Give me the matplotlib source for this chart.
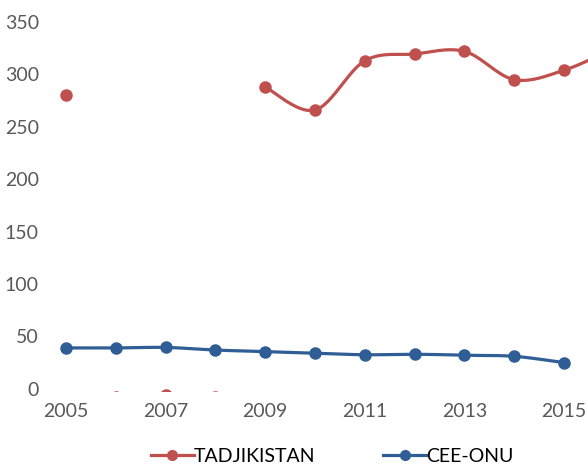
import numpy as np
import matplotlib.pyplot as plt

years = [2005, 2006, 2007, 2008, 2009, 2010, 2011, 2012, 2013, 2014, 2015, 2016]
tadj = [280, np.nan, np.nan, np.nan, 288, 266, 313, 319.5, 322, 295, 304, 325]
tadj_low = [np.nan, -8, -5.5, -8, np.nan, np.nan, np.nan, np.nan, np.nan, np.nan, np.nan, np.nan]
cee = [39, 39, 39.5, 37, 35.5, 34, 32.5, 33, 32, 31, 25]
xticks = [2005, 2007, 2009, 2011, 2013, 2015]
yticks = [0, 50, 100, 150, 200, 250, 300, 350]

RED = '#C0504D'
BLUE = '#2F5E96'


def smooth(x, y, n=20):
    # catmull-rom through each run of valid points, like excel's smoothed line
    x = np.asarray(x, float)
    y = np.asarray(y, float)
    out_x, out_y = [], []
    ok = ~np.isnan(y)
    runs, cur = [], []
    for i in range(len(x)):
        if ok[i]:
            cur.append(i)
        elif cur:
            runs.append(cur)
            cur = []
    if cur:
        runs.append(cur)
    for r in runs:
        px, py = x[r], y[r]
        if len(r) == 1:
            continue
        for k in range(len(r) - 1):
            p0 = (px[max(k - 1, 0)], py[max(k - 1, 0)])
            p1 = (px[k], py[k])
            p2 = (px[k + 1], py[k + 1])
            p3 = (px[min(k + 2, len(r) - 1)], py[min(k + 2, len(r) - 1)])
            t = np.linspace(0, 1, n)
            for a in range(2):
                c1 = p1[a] + (p2[a] - p0[a]) / 6
                c2 = p2[a] - (p3[a] - p1[a]) / 6
                b = ((1 - t) ** 3 * p1[a] + 3 * (1 - t) ** 2 * t * c1
                     + 3 * (1 - t) * t ** 2 * c2 + t ** 3 * p2[a])
                (out_x if a == 0 else out_y).extend(b)
        out_x.append(np.nan)
        out_y.append(np.nan)
    return out_x, out_y


plt.rcParams['font.family'] = ['Lato', 'DejaVu Sans']

fig = plt.figure(figsize=(5.88, 4.66), dpi=100)
ax = fig.add_axes([0.085, 0.16, 0.915, 0.84])

sx, sy = smooth(years, tadj)
ax.plot(sx, sy, color=RED, lw=2.3, solid_capstyle='round')
ax.plot(years, tadj, 'o', color=RED, ms=8)
ax.plot(years, tadj_low, 'o', color=RED, ms=8)

sx, sy = smooth(years[:len(cee)], cee)
ax.plot(sx, sy, color=BLUE, lw=2.3, solid_capstyle='round')
ax.plot(years[:len(cee)], cee, 'o', color=BLUE, ms=8)

ax.set_xlim(2004.68, 2015.48)
ax.set_ylim(-2.5, 371)
ax.set_xticks(xticks)
ax.set_yticks(yticks)
ax.tick_params(length=0, labelsize=14, colors='#595959', pad=8)
for s in ax.spines.values():
    s.set_visible(False)

h1, = ax.plot([], [], '-o', color=RED, lw=2.3, ms=7)
h2, = ax.plot([], [], '-o', color=BLUE, lw=2.3, ms=7)
fig.legend([h1, h2], ['TADJIKISTAN', 'CEE-ONU'], loc='lower center',
           bbox_to_anchor=(0.565, -0.035), ncol=2, frameon=False, fontsize=14,
           handlelength=2.2, columnspacing=3.5, handletextpad=0.0)

fig.savefig('out.png', dpi=100)
